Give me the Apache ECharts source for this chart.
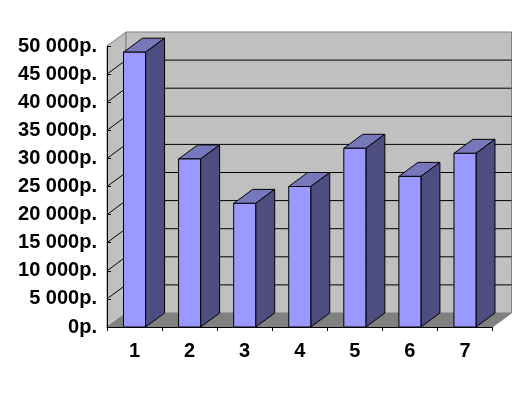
<!DOCTYPE html>
<html><head><meta charset="utf-8">
<style>html,body{margin:0;padding:0;background:#fff}#c{width:528px;height:396px}</style>
<script src="https://cdn.jsdelivr.net/npm/echarts@6/dist/echarts.min.js"></script>
</head><body><div id="c"></div>
<script>
const categories = ['1','2','3','4','5','6','7'];
const values = [48900, 29900, 22000, 25000, 31800, 26800, 30900];
const gridValues = [5000,10000,15000,20000,25000,30000,35000,40000,45000];
const yMin = 0, yMax = 50000, yStep = 5000;
const DX = 19, DY = -14;
const chart = echarts.init(document.getElementById('c'), null, {renderer:'canvas'});
function fmt(v){
  if(v===0) return '0p.';
  const s=String(v);
  return s.slice(0,-3)+' '+s.slice(-3)+'p.';
}
function poly(pts, fill, stroke, lw){
  return {type:'polygon',shape:{points:pts},style:{fill:fill,stroke:stroke||'none',lineWidth:lw||0}};
}
function line(a,b,color){
  return {type:'polyline',shape:{points:[a,b]},style:{stroke:color,lineWidth:1,fill:'none'}};
}
function renderWalls(params, api){
  const cs = params.coordSys;
  const L=cs.x, R=cs.x+cs.width;
  const y0=api.coord([0,yMin])[1], y1=api.coord([0,yMax])[1];
  const ch=[];
  ch.push(poly([[L,y0],[L+DX,y0+DY],[L+DX,y1+DY],[L,y1]],'#C0C0C0','#808080',1));
  ch.push(poly([[L+DX,y0+DY],[R+DX,y0+DY],[R+DX,y1+DY],[L+DX,y1+DY]],'#C0C0C0','#808080',1));
  ch.push(poly([[L,y0],[L+DX,y0+DY],[R+DX,y0+DY],[R,y0]],'#808080'));
  ch.push(line([R,y0],[R+DX,y0+DY],'#808080'));
  gridValues.forEach(v=>{
    const y=api.coord([0,v])[1];
    ch.push(line([L,y],[L+DX,y+DY],'#000'));
    ch.push(line([L+DX,y+DY],[R+DX,y+DY],'#000'));
  });
  return {type:'group',children:ch};
}
function renderBar(params, api){
  const idx=api.value(0), v=api.value(1);
  const top=api.coord([idx,v]), base=api.coord([idx,0]);
  const w=api.size([1,0])[0]*0.4;
  const l=top[0]-w/2, r=top[0]+w/2, t=top[1], b=base[1];
  return {type:'group',children:[
    poly([[l,t],[r,t],[r+DX,t+DY],[l+DX,t+DY]],'#7777BB','#000',1),
    poly([[r,t],[r+DX,t+DY],[r+DX,b+DY],[r,b]],'#4D4D80','#000',1),
    poly([[l,t],[r,t],[r,b],[l,b]],'#9999FF','#000',1)
  ]};
}
chart.setOption({
  animation:false,
  backgroundColor:'#fff',
  grid:{left:107,right:35.5,top:46,bottom:69,containLabel:false},
  xAxis:{type:'category',data:categories,boundaryGap:true,
    axisLine:{show:true,lineStyle:{color:'#000',width:1}},
    axisTick:{show:true,length:4,lineStyle:{color:'#000'}},
    axisLabel:{color:'#000',fontFamily:'Liberation Sans',fontWeight:'bold',fontSize:20,margin:14},
    z:5},
  yAxis:{type:'value',min:yMin,max:yMax,interval:yStep,
    axisLine:{show:true,lineStyle:{color:'#000',width:1}},
    axisTick:{show:true,inside:true,length:4,lineStyle:{color:'#000'}},
    splitLine:{show:false},
    axisLabel:{color:'#000',fontFamily:'Liberation Sans',fontWeight:'bold',fontSize:20,margin:10,padding:[2,0,0,0],formatter:fmt},
    z:5},
  series:[
    {type:'custom',coordinateSystem:'cartesian2d',data:[[0,0]],renderItem:renderWalls,silent:true,z:1,clip:false},
    {type:'custom',coordinateSystem:'cartesian2d',data:values.map((v,i)=>[i,v]),renderItem:renderBar,encode:{x:0,y:1},z:2,clip:false}
  ]
});
</script></body></html>
